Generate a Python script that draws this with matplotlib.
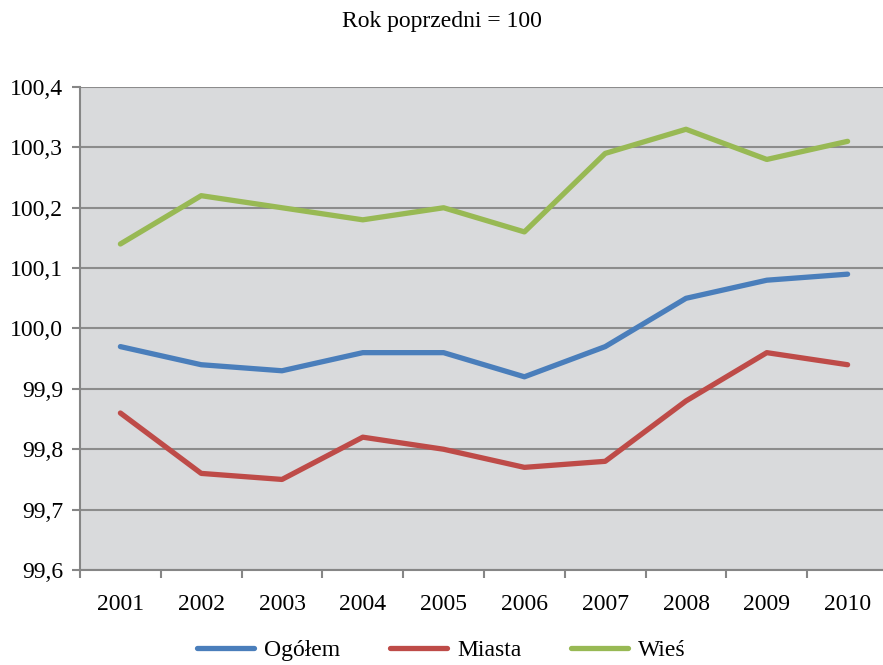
import numpy as np
import matplotlib.pyplot as plt
from matplotlib.ticker import FixedLocator

plt.rcParams['font.family'] = ['Liberation Serif', 'DejaVu Serif']

years = ['2001', '2002', '2003', '2004', '2005', '2006', '2007', '2008', '2009', '2010']
ogolem = [99.97, 99.94, 99.93, 99.96, 99.96, 99.92, 99.97, 100.05, 100.08, 100.09]
miasta = [99.86, 99.76, 99.75, 99.82, 99.80, 99.77, 99.78, 99.88, 99.96, 99.94]
wies = [100.14, 100.22, 100.20, 100.18, 100.20, 100.16, 100.29, 100.33, 100.28, 100.31]
yticks = [99.6, 99.7, 99.8, 99.9, 100.0, 100.1, 100.2, 100.3, 100.4]

fig = plt.figure(figsize=(8.83, 6.65), dpi=100)
ax = fig.add_axes([80 / 883, 95 / 665, 808 / 883, 483 / 665])
ax.set_facecolor('#d9dadc')

x = np.arange(len(years))
ax.plot(x, ogolem, color='#4a7ebb', lw=3.8, solid_capstyle='round', label='Ogółem', zorder=3)
ax.plot(x, miasta, color='#be4b48', lw=3.8, solid_capstyle='round', label='Miasta', zorder=3)
ax.plot(x, wies, color='#98b954', lw=3.8, solid_capstyle='round', label='Wieś', zorder=3)

ax.set_xlim(-0.5, len(years) - 0.5)
ax.set_ylim(99.6, 100.4)
ax.set_yticks(yticks)
ax.set_yticklabels([f'{v:.1f}'.replace('.', ',') for v in yticks], fontsize=17)
ax.set_xticks(x)
ax.set_xticklabels(years, fontsize=17)
ax.xaxis.set_minor_locator(FixedLocator(np.arange(-0.5, len(years), 1.0)))
ax.tick_params(axis='x', which='major', length=0, pad=17)
ax.tick_params(axis='x', which='minor', length=6, width=1.5, color='#868686')
ax.tick_params(axis='y', length=6, width=1.5, color='#868686', pad=6)

ax.grid(axis='y', color='#8c8c8c', lw=1.5, zorder=1)
for s in ['top', 'right']:
    ax.spines[s].set_visible(False)
for s in ['left', 'bottom']:
    ax.spines[s].set_color('#868686')
    ax.spines[s].set_linewidth(1.5)

fig.text(0.5, 1 - 21 / 665, 'Rok poprzedni = 100', ha='center', va='center', fontsize=17)

fig.legend(loc='center', bbox_to_anchor=(0.5, 15 / 665), ncol=3, frameon=False,
           fontsize=17, handlelength=2.4, columnspacing=2.1, handletextpad=0.45)

fig.savefig('out.png', dpi=100)
